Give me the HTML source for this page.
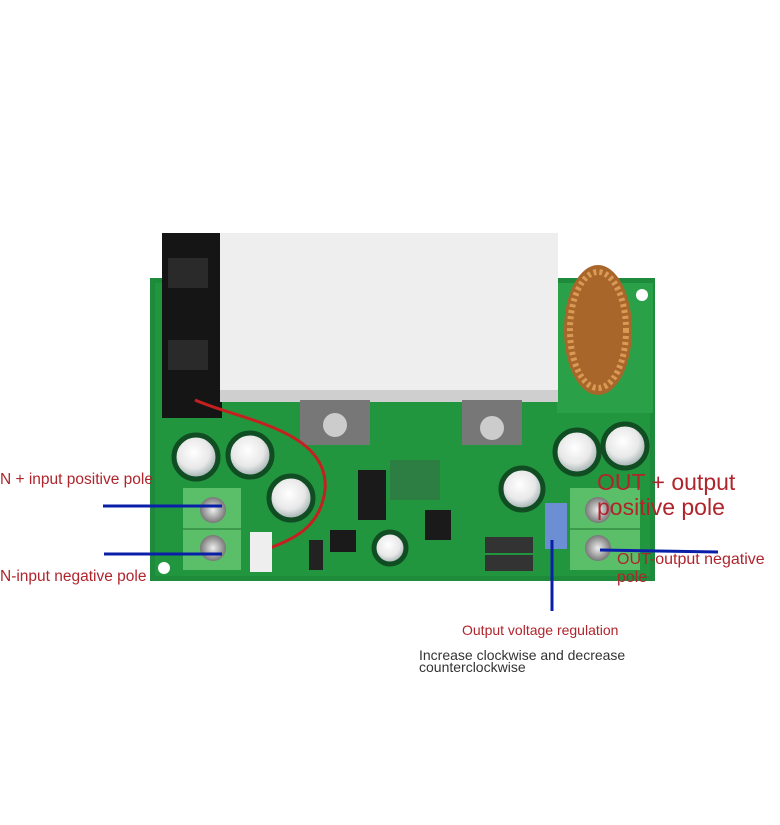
<!DOCTYPE html>
<html><head><meta charset="utf-8"><style>
body{margin:0;width:780px;height:825px;background:#fff;overflow:hidden;position:relative;font-family:"Liberation Sans",sans-serif}
.t{position:absolute;white-space:nowrap;color:#b0242c}
</style></head><body>
<svg width="780" height="825" style="position:absolute;left:0;top:0">
<defs>
<radialGradient id="cap" cx="45%" cy="40%" r="60%"><stop offset="0" stop-color="#fff"/><stop offset="0.6" stop-color="#e8e8e8"/><stop offset="1" stop-color="#9aa"/></radialGradient>
<radialGradient id="scr" cx="50%" cy="50%" r="50%"><stop offset="0" stop-color="#eee"/><stop offset="1" stop-color="#777"/></radialGradient>
</defs>
<rect x="150" y="278" width="505" height="303" fill="#1d8a3c"/>
<rect x="155" y="283" width="495" height="293" fill="#22963f"/>
<rect x="557" y="283" width="96" height="130" fill="#2aa048"/>
<circle cx="164" cy="568" r="6" fill="#fff"/><circle cx="642" cy="295" r="6" fill="#fff"/>
<rect x="162" y="233" width="60" height="185" fill="#151515"/>
<rect x="168" y="258" width="40" height="30" fill="#2a2a2a"/><rect x="168" y="340" width="40" height="30" fill="#2a2a2a"/>
<rect x="220" y="233" width="338" height="168" fill="#eeeeee"/>
<rect x="220" y="390" width="338" height="12" fill="#cfcfcf"/>
<ellipse cx="598" cy="330" rx="34" ry="65" fill="#a8662a"/>
<ellipse cx="598" cy="330" rx="28" ry="58" fill="none" stroke="#d89a55" stroke-width="6" stroke-dasharray="3 3"/>
<rect x="300" y="400" width="70" height="45" fill="#777"/><circle cx="335" cy="425" r="12" fill="#ccc"/>
<rect x="462" y="400" width="60" height="45" fill="#777"/><circle cx="492" cy="428" r="12" fill="#ccc"/>
<g stroke="#114d22" stroke-width="5">
<circle cx="196" cy="457" r="22" fill="url(#cap)"/><circle cx="250" cy="455" r="22" fill="url(#cap)"/>
<circle cx="291" cy="498" r="22" fill="url(#cap)"/><circle cx="522" cy="489" r="21" fill="url(#cap)"/>
<circle cx="577" cy="452" r="22" fill="url(#cap)"/><circle cx="625" cy="446" r="22" fill="url(#cap)"/>
<circle cx="390" cy="548" r="16" fill="url(#cap)"/>
</g>
<path d="M195 400 C240 420 330 430 325 490 C320 530 290 540 265 550" stroke="#c52020" stroke-width="3" fill="none"/>
<rect x="358" y="470" width="28" height="50" fill="#1a1a1a"/>
<rect x="425" y="510" width="26" height="30" fill="#1a1a1a"/>
<rect x="330" y="530" width="26" height="22" fill="#1a1a1a"/>
<rect x="390" y="460" width="50" height="40" fill="#2c7e42"/>
<rect x="485" y="537" width="48" height="16" fill="#333"/><rect x="485" y="555" width="48" height="16" fill="#333"/>
<rect x="250" y="532" width="22" height="40" fill="#eee"/>
<rect x="309" y="540" width="14" height="30" fill="#222"/>
<rect x="183" y="488" width="58" height="82" fill="#5bbf6a"/>
<line x1="183" y1="529" x2="241" y2="529" stroke="#3d9a4d" stroke-width="2"/>
<circle cx="213" cy="510" r="13" fill="url(#scr)"/><circle cx="213" cy="548" r="13" fill="url(#scr)"/>
<rect x="570" y="488" width="70" height="82" fill="#5bbf6a"/>
<line x1="570" y1="529" x2="640" y2="529" stroke="#3d9a4d" stroke-width="2"/>
<circle cx="598" cy="510" r="13" fill="url(#scr)"/><circle cx="598" cy="548" r="13" fill="url(#scr)"/>
<rect x="545" y="503" width="22" height="46" fill="#6c8fd4"/>
<g stroke="#0a1fa8" stroke-width="3">
<line x1="103" y1="506" x2="222" y2="506"/>
<line x1="104" y1="554" x2="222" y2="554"/>
<line x1="600" y1="550" x2="718" y2="552"/>
<line x1="552" y1="540" x2="552" y2="611"/>
</g>
</svg>
<div class="t" style="left:0;top:471px;font-size:15.5px">N + input positive pole</div>
<div class="t" style="left:0;top:568px;font-size:15.5px">N-input negative pole</div>
<div class="t" style="left:597px;top:469px;font-size:23px">OUT + output</div>
<div class="t" style="left:597px;top:494px;font-size:23px">positive pole</div>
<div class="t" style="left:617px;top:551px;font-size:16px">OUT-output negative</div>
<div class="t" style="left:617px;top:569px;font-size:16px">pole</div>
<div class="t" style="left:462px;top:622px;font-size:14px">Output voltage regulation</div>
<div class="t" style="left:419px;top:649px;font-size:14px;color:#333;line-height:12px">Increase clockwise and decrease<br>counterclockwise</div>
</body></html>
